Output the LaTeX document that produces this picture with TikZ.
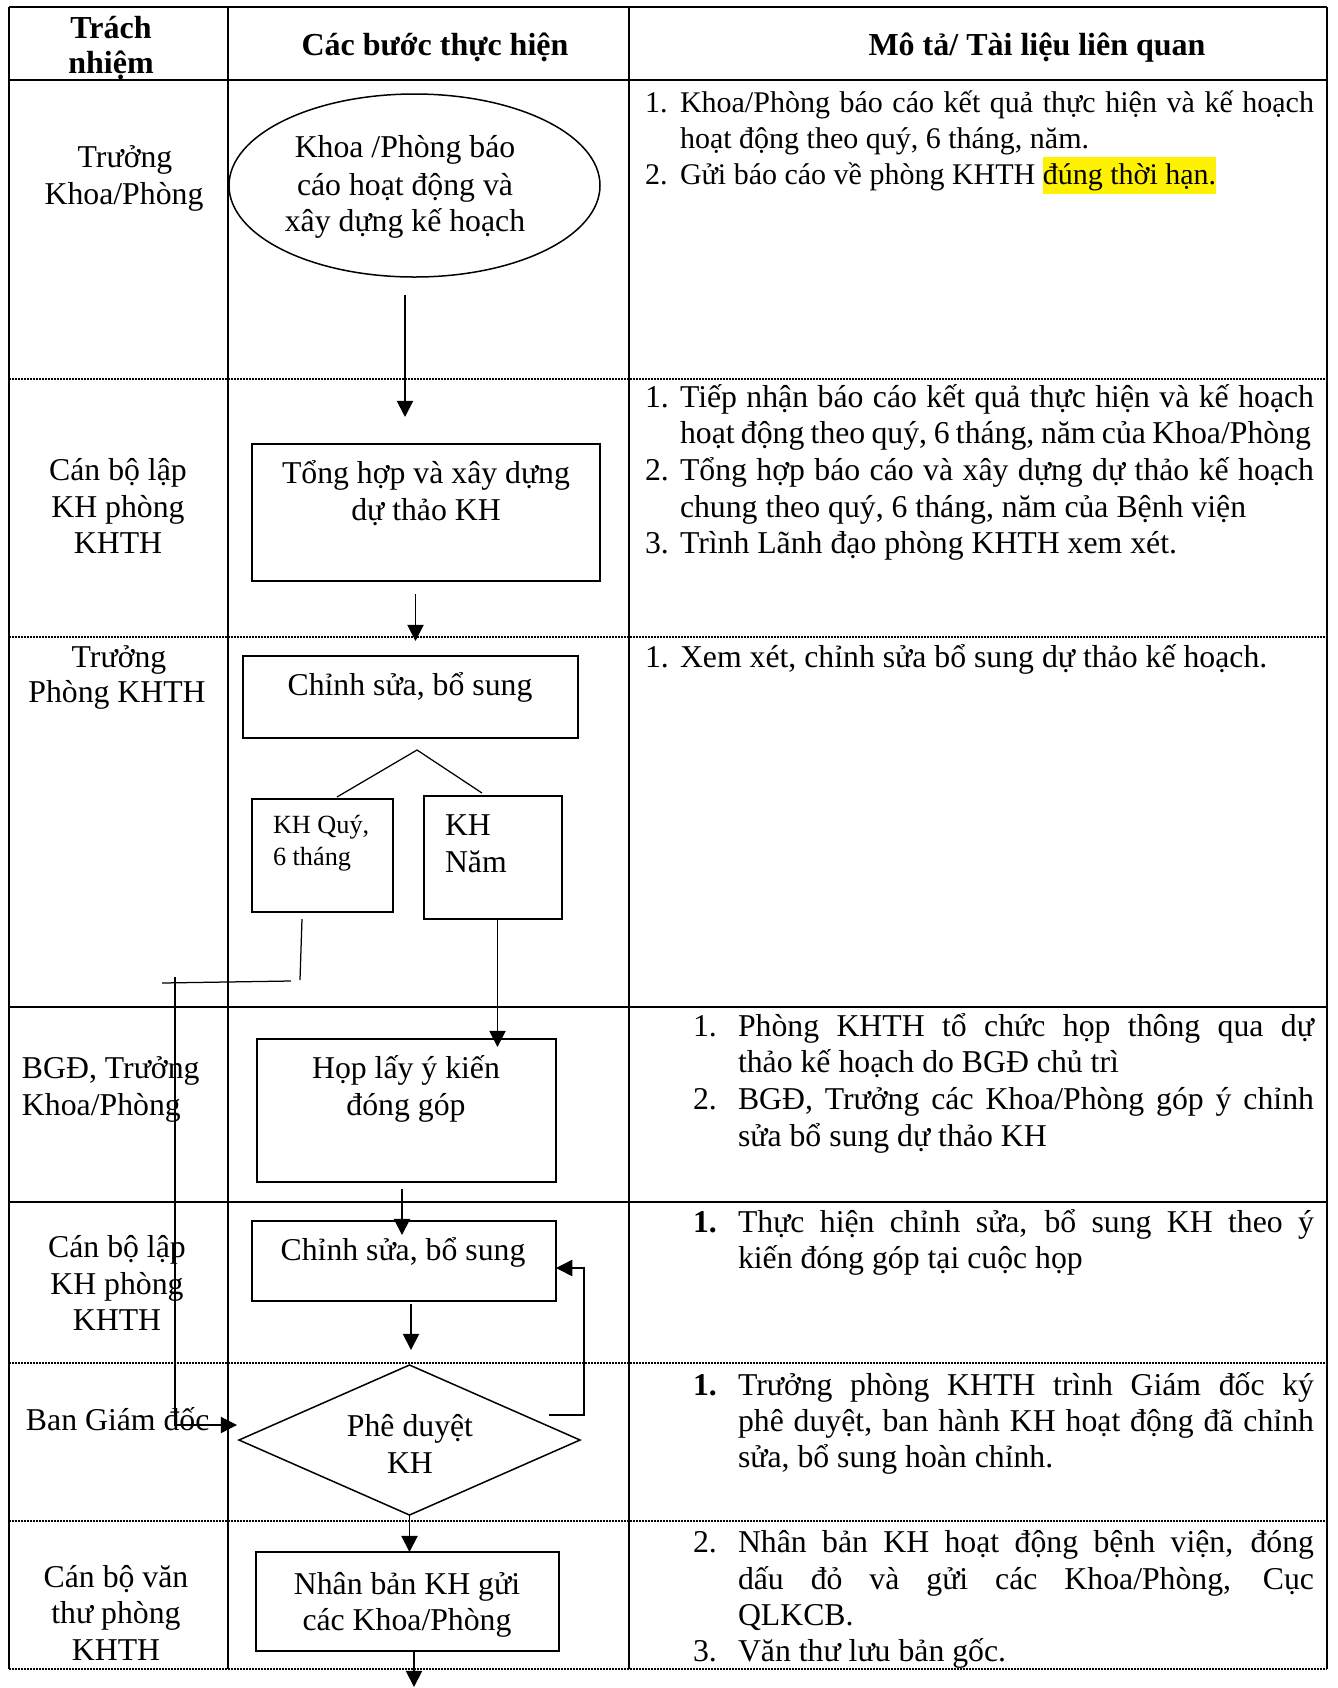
\documentclass[tikz,border=0pt]{standalone}
\usepackage{fontspec}
\setmainfont{Liberation Serif}
\usetikzlibrary{arrows.meta,shapes.geometric,fit}
\newcommand\jusline[2]{\makebox[#1][s]{#2}}
\newcommand\hlyellow[1]{{\setlength\fboxsep{0pt}\colorbox{yellow}{\rule[-4pt]{0pt}{15pt}#1}}}
\begin{document}
\begin{tikzpicture}[x=0.4pt,y=-0.4pt,
  tbl/.style={line width=0.8pt},
  dotrow/.style={line width=0.5pt,dash pattern=on 0.6pt off 0.6pt},
  boxs/.style={draw,line width=0.6pt,inner sep=0pt,outer sep=0pt},
  arr/.style={line width=0.75pt,-{Triangle[length=6.5pt,width=6.5pt]}},
  thinl/.style={line width=0.5pt},
  txt/.style={inner sep=0pt,outer sep=0pt,anchor=base,font=\fontsize{12.7}{14.6}\selectfont},
  txtl/.style={txt,anchor=base west},
  txtr/.style={txtl,font=\fontsize{12}{14.6}\selectfont},
  hd/.style={txt,font=\fontsize{12.8}{14.6}\selectfont\bfseries},
  smalltxt/.style={txtl,font=\fontsize{10.5}{12}\selectfont}
]
\fill[white] (0,0) rectangle (1338,1688);
\useasboundingbox (0,0) rectangle (1338,1688);

% ---------- table ----------
\draw[tbl] (9,7) -- (1327,7);
\draw[tbl] (9,80) -- (1327,80);
\draw[tbl] (9,1007) -- (1327,1007);
\draw[tbl] (9,1202) -- (1327,1202);
\draw[dotrow] (9,379) -- (1327,379);
\draw[dotrow] (9,637) -- (1327,637);
\draw[dotrow] (9,1363) -- (1327,1363);
\draw[dotrow] (9,1521) -- (1327,1521);
\draw[dotrow] (9,1669) -- (1327,1669);
\draw[tbl] (9,7) -- (9,1669);
\draw[tbl] (228,7) -- (228,1669);
\draw[tbl] (629,7) -- (629,1669);
\draw[tbl] (1327,7) -- (1327,1669);

% ---------- header ----------
\node[hd] (h1a) at (111,38) {Trách};
\node[hd] (h1b) at (111,73) {nhiệm};
\node[hd] (h2) at (435,55) {Các bước thực hiện};
\node[hd] (h3) at (1037,55) {Mô tả/ Tài liệu liên quan};

% ---------- responsibility column ----------
\node[txt] (r1a) at (125,167) {Trưởng};
\node[txt] (r1b) at (124,204) {Khoa/Phòng};
\node[txt] (r2a) at (118,480) {Cán bộ lập};
\node[txt] (r2b) at (118,517) {KH phòng};
\node[txt] (r2c) at (118,553) {KHTH};
\node[txt] (r3a) at (119,667) {Trưởng};
\node[txt] (r3b) at (117,702) {Phòng KHTH};
\node[txtl] (r4a) at (22,1078) {BGĐ, Trưởng};
\node[txtl] (r4b) at (22,1115) {Khoa/Phòng};
\node[txt] (r5a) at (117,1257) {Cán bộ lập};
\node[txt] (r5b) at (117,1294) {KH phòng};
\node[txt] (r5c) at (117,1330) {KHTH};
\node[txtl] (r6a) at (26,1430) {Ban Giám đốc};
\node[txt] (r7a) at (116,1587) {Cán bộ văn};
\node[txt] (r7b) at (116,1623) {thư phòng};
\node[txt] (r7c) at (116,1660) {KHTH};

% ---------- flowchart shapes ----------
\node[boxs,ellipse,minimum width=148.4pt,minimum height=73.2pt] (ell) at (414.5,185.5) {};
\node[txt] (ellt1) at (405,157) {Khoa /Phòng báo};
\node[txt] (ellt2) at (405,195) {cáo hoạt động và};
\node[txt] (ellt3) at (405,231) {xây dựng kế hoạch};

\coordinate (th1) at (252,444); \coordinate (th2) at (600,581);
\node[boxs,fit=(th1)(th2)] (th) {};
\node[txt] (tht1) at (426,483) {Tổng hợp và xây dựng};
\node[txt] (tht2) at (426,520) {dự thảo KH};

\coordinate (cs11) at (243,656); \coordinate (cs12) at (578,738);
\node[boxs,fit=(cs11)(cs12)] (cs1) {};
\node[txt] (cs1t) at (410,695) {Chỉnh sửa, bổ sung};

\coordinate (q1) at (252,799); \coordinate (q2) at (393,912);
\node[boxs,fit=(q1)(q2)] (quy) {};
\node[smalltxt] (quyt1) at (273,833) {KH Quý,};
\node[smalltxt] (quyt2) at (273,865) {6 tháng};

\coordinate (n1) at (424,796); \coordinate (n2) at (562,919);
\node[boxs,fit=(n1)(n2)] (nam) {};
\node[txtl] (namt1) at (445,835) {KH};
\node[txtl] (namt2) at (445,872) {Năm};

\coordinate (hp1) at (257,1039); \coordinate (hp2) at (556,1182);
\node[boxs,fit=(hp1)(hp2)] (hop) {};
\node[txt] (hopt1) at (406,1078) {Họp lấy ý kiến};
\node[txt] (hopt2) at (406,1115) {đóng góp};

\coordinate (cs21) at (252,1221); \coordinate (cs22) at (556,1301);
\node[boxs,fit=(cs21)(cs22)] (cs2) {};
\node[txt] (cs2t) at (403,1260) {Chỉnh sửa, bổ sung};

\node[boxs,diamond,minimum width=136.4pt,minimum height=60pt] (dia) at (409.5,1440) {};
\node[txt] (diat1) at (410,1436) {Phê duyệt};
\node[txt] (diat2) at (410,1473) {KH};

\coordinate (nb1) at (256,1552); \coordinate (nb2) at (559,1651);
\node[boxs,fit=(nb1)(nb2)] (nb) {};
\node[txt] (nbt1) at (407,1594) {Nhân bản KH gửi};
\node[txt] (nbt2) at (407,1630) {các Khoa/Phòng};

% ---------- connectors ----------
\coordinate (a1s) at (405,295); \coordinate (a1e) at (405,417);
\draw[arr] (a1s) -- (a1e);
\coordinate (a2s) at (415.5,594); \coordinate (a2e) at (415.5,641);
\draw[arr] (a2s) -- (a2e);
\coordinate (apex) at (417,750);
\coordinate (legl) at (337,797); \coordinate (legr) at (482,793);
\draw[thinl] (legl) -- (apex) -- (legr);
\coordinate (a3s) at (497.5,919); \coordinate (a3e) at (497.5,1047);
\draw[arr] (a3s) -- (a3e);
\coordinate (qs1) at (302,919); \coordinate (qs2) at (300,980);
\draw[thinl] (qs1) -- (qs2);
\coordinate (qh1) at (291,981); \coordinate (qh2) at (162,983);
\draw[thinl] (qh1) -- (qh2);
\coordinate (qv1) at (175,977); \coordinate (qv2) at (175,1425); \coordinate (qv3) at (237,1425);
\draw[arr,line width=0.5pt] (qv1) -- (qv2) -- (qv3);
\coordinate (a5s) at (402,1189); \coordinate (a5e) at (402,1235);
\draw[arr] (a5s) -- (a5e);
\coordinate (a6s) at (411,1304); \coordinate (a6e) at (411,1350);
\draw[arr] (a6s) -- (a6e);
\coordinate (fb1) at (549,1415); \coordinate (fb2) at (584,1415); \coordinate (fb3) at (584,1268);
\coordinate (fb4) at (556,1268);
\draw[arr,line width=0.6pt] (fb1) -- (fb2) -- (fb3) -- (fb4);
\draw[arr] (dia.south) -- (dia.south |- nb.north);
\coordinate (a9s) at (414,1651); \coordinate (a9e) at (414,1687);
\draw[arr] (a9s) -- (a9e);

% ---------- description column ----------
% row 1
\node[txtr] (d1n1) at (645,112) {1.};
\node[txtr] (d1l1) at (680,112) {\jusline{253.6pt}{Khoa/Phòng báo cáo kết quả thực hiện và kế hoạch}};
\node[txtr] (d1l2) at (680,148) {hoạt động theo quý, 6 tháng, năm.};
\node[txtr] (d1n2) at (645,184) {2.};
\node[txtr] (d1l3) at (680,184) {Gửi báo cáo về phòng KHTH \hlyellow{đúng thời hạn.}};
% row 2
\node[txtl] (d2n1) at (645,407) {1.};
\node[txtl] (d2l1) at (680,407) {\jusline{253.6pt}{Tiếp nhận báo cáo kết quả thực hiện và kế hoạch}};
\node[txtl] (d2l2) at (680,443) {\jusline{252.4pt}{hoạt động theo quý, 6 tháng, năm của Khoa/Phòng}};
\node[txtl] (d2n2) at (645,480) {2.};
\node[txtl] (d2l3) at (680,480) {\jusline{253.6pt}{Tổng hợp báo cáo và xây dựng dự thảo kế hoạch}};
\node[txtl] (d2l4) at (680,517) {chung theo quý, 6 tháng, năm của Bệnh viện};
\node[txtl] (d2n3) at (645,553) {3.};
\node[txtl] (d2l5) at (680,553) {Trình Lãnh đạo phòng KHTH xem xét.};
% row 3
\node[txtl] (d3n1) at (645,667) {1.};
\node[txtl] (d3l1) at (680,667) {Xem xét, chỉnh sửa bổ sung dự thảo kế hoạch.};
% row 4
\node[txtl] (d4n1) at (693,1036) {1.};
\node[txtl] (d4l1) at (738,1036) {\jusline{230.4pt}{Phòng KHTH tổ chức họp thông qua dự}};
\node[txtl] (d4l2) at (738,1072) {thảo kế hoạch do BGĐ chủ trì};
\node[txtl] (d4n2) at (693,1109) {2.};
\node[txtl] (d4l3) at (738,1109) {\jusline{230.4pt}{BGĐ, Trưởng các Khoa/Phòng góp ý chỉnh}};
\node[txtl] (d4l4) at (738,1146) {sửa bổ sung dự thảo KH};
% row 5
\node[txtl] (d5n1) at (693,1232) {\textbf{1.}};
\node[txtl] (d5l1) at (738,1232) {\jusline{230.4pt}{Thực hiện chỉnh sửa, bổ sung KH theo ý}};
\node[txtl] (d5l2) at (738,1268) {kiến đóng góp tại cuộc họp};
% row 6
\node[txtl] (d6n1) at (693,1395) {\textbf{1.}};
\node[txtl] (d6l1) at (738,1395) {\jusline{230.4pt}{Trưởng phòng KHTH trình Giám đốc ký}};
\node[txtl] (d6l2) at (738,1431) {\jusline{230.4pt}{phê duyệt, ban hành KH hoạt động đã chỉnh}};
\node[txtl] (d6l3) at (738,1467) {sửa, bổ sung hoàn chỉnh.};
% row 7
\node[txtl] (d7n1) at (693,1552) {2.};
\node[txtl] (d7l1) at (738,1552) {\jusline{230.4pt}{Nhân bản KH hoạt động bệnh viện, đóng}};
\node[txtl] (d7l2) at (738,1589) {\jusline{230.4pt}{dấu đỏ và gửi các Khoa/Phòng, Cục}};
\node[txtl] (d7l3) at (738,1625) {QLKCB.};
\node[txtl] (d7n2) at (693,1661) {3.};
\node[txtl] (d7l4) at (738,1661) {Văn thư lưu bản gốc.};
\end{tikzpicture}
\end{document}
